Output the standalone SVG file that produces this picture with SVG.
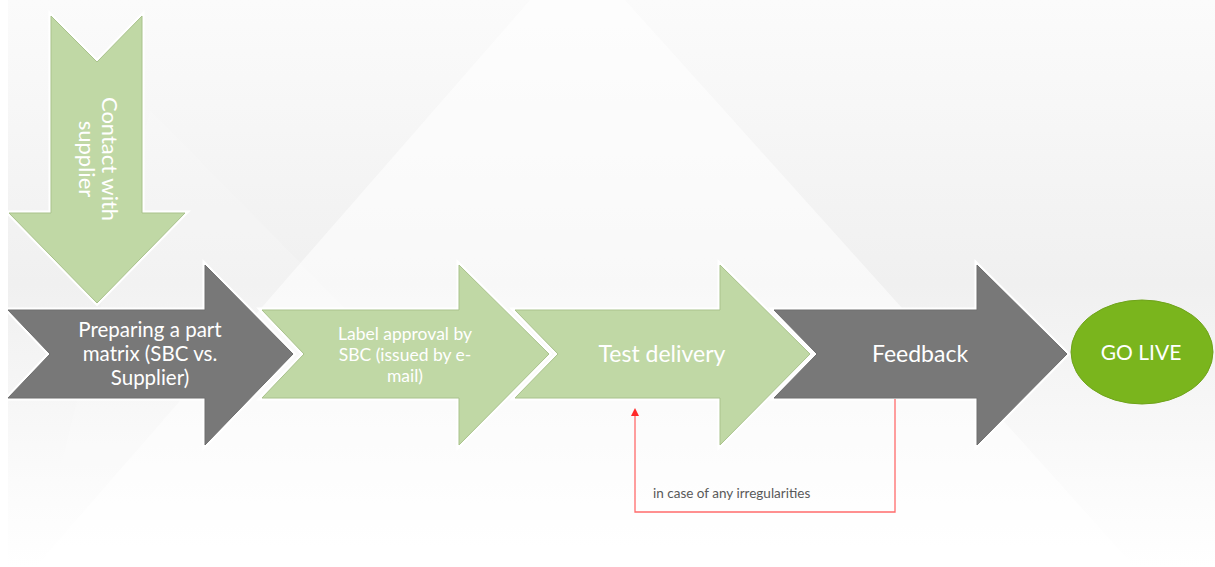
<svg xmlns="http://www.w3.org/2000/svg" width="1215" height="567" viewBox="0 0 1215 567">
<defs>
<linearGradient id="bg" x1="0" y1="0" x2="0" y2="1">
<stop offset="0" stop-color="#fbfbfb"/>
<stop offset="0.5" stop-color="#f0f0f0"/>
<stop offset="0.85" stop-color="#fbfbfb"/>
<stop offset="1" stop-color="#ffffff"/>
</linearGradient>
<marker id="ah" markerWidth="8" markerHeight="8" refX="4" refY="4" orient="auto" markerUnits="userSpaceOnUse">
<path d="M0,0 L8,4 L0,8 Z" fill="#ff2a2a"/>
</marker>
</defs>
<style>
.halo{fill:none;stroke:#ffffff;stroke-width:5;stroke-linejoin:miter}
.green{fill:#c0d8a5;stroke:#a9c28c;stroke-width:1}
.gray{fill:#787878;stroke:#6e6e6e;stroke-width:1}
.lbl{font-family:"Lato","Liberation Sans",sans-serif;fill:#ffffff;text-anchor:middle}
.note{font-family:"Lato","Liberation Sans",sans-serif;fill:#595959;font-size:13.5px}
.conn{fill:none;stroke:#ff6b6b;stroke-width:1.3}
</style>
<rect x="0" y="0" width="1215" height="567" fill="url(#bg)"/>
<polygon points="530,0 625,0 1135,567 35,567" fill="#ffffff" fill-opacity="0.55"/>
<polygon points="150,110 600,567 35,567" fill="#ffffff" fill-opacity="0.15"/>
<rect x="0" y="0" width="8" height="567" fill="#ffffff"/>

<g id="contact-with-supplier">
<polygon class="halo" points="51,16 97,62 142,16 142,213 185,213 97,303 9,213 51,213"/>
<polygon class="green" points="51,16 97,62 142,16 142,213 185,213 97,303 9,213 51,213"/>
<g transform="translate(96,159) rotate(90)">
<text class="lbl" font-size="22" x="0" y="-6">Contact with</text>
<text class="lbl" font-size="22" x="0" y="17">supplier</text>
</g>
</g>

<g id="preparing-part-matrix">
<polygon class="halo" points="8,310 205,310 205,265 293,354 205,445 205,398 8,398 50,354"/>
<polygon class="gray" points="8,310 205,310 205,265 293,354 205,445 205,398 8,398 50,354"/>
<text class="lbl" font-size="20.5"><tspan x="150" y="337">Preparing a part</tspan><tspan x="150" y="361">matrix (SBC vs.</tspan><tspan x="150" y="385">Supplier)</tspan></text>
</g>

<g id="label-approval">
<polygon class="halo" points="262,310 459,310 459,265 549,354 459,445 459,398 262,398 304,354"/>
<polygon class="green" points="262,310 459,310 459,265 549,354 459,445 459,398 262,398 304,354"/>
<text class="lbl" font-size="17.5"><tspan x="405" y="340">Label approval by</tspan><tspan x="405" y="361">SBC (issued by e-</tspan><tspan x="405" y="382">mail)</tspan></text>
</g>

<g id="test-delivery">
<polygon class="halo" points="515,310 720,310 720,265 810,354 720,445 720,398 515,398 558,354"/>
<polygon class="green" points="515,310 720,310 720,265 810,354 720,445 720,398 515,398 558,354"/>
<text class="lbl" font-size="23" x="662" y="362">Test delivery</text>
</g>

<g id="feedback">
<polygon class="halo" points="774,310 977,310 977,265 1067,354 977,445 977,398 774,398 817,354"/>
<polygon class="gray" points="774,310 977,310 977,265 1067,354 977,445 977,398 774,398 817,354"/>
<text class="lbl" font-size="23" x="920" y="362">Feedback</text>
</g>

<g id="go-live">
<ellipse cx="1142" cy="352" rx="71" ry="52" fill="#7ab51d" stroke="#6fa31a" stroke-width="1"/>
<text class="lbl" font-size="21" x="1141" y="360">GO LIVE</text>
</g>

<g id="connectors">
<polyline class="conn" points="895,399 895,512 635,512 635,412" marker-end="url(#ah)"/>
<text class="note" x="653" y="498">in case of any irregularities</text>
</g>
</svg>
